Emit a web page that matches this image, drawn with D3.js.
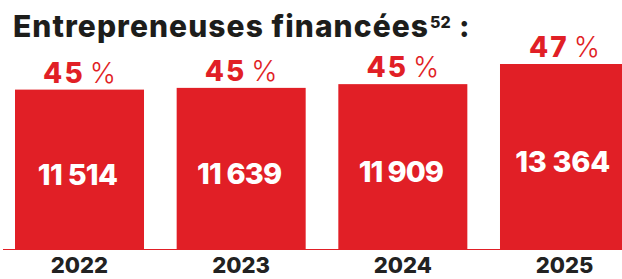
<!DOCTYPE html>
<html>
<head>
<meta charset="utf-8">
<script src="https://cdn.jsdelivr.net/npm/d3@7/dist/d3.min.js"></script>
<style>
  html, body { margin: 0; padding: 0; background: #ffffff; }
  svg { display: block; }
  text { font-family: Inter, Roboto, "Liberation Sans", sans-serif; }
</style>
</head>
<body>
<svg id="chart" width="622" height="279"></svg>
<script>
const years = ["2022", "2023", "2024", "2025"];
const counts = [11514, 11639, 11909, 13364];
const shares = [45, 45, 45, 47];
const titleText = "Entrepreneuses financées";
const titleNote = "52";

const W = 622, H = 279;
const red = "#e11f26";
const dark = "#1d1d1b";
const svg = d3.select("#chart");

const x = d3.scaleBand().domain(years).range([15, 629]).paddingInner(0.202).paddingOuter(0);
const y = d3.scaleLinear().domain([0, d3.max(counts)]).range([249, 64]);

function fitWidth(sel, target) {
  const node = sel.node();
  const w = node.getComputedTextLength();
  const n = Math.max(1, sel.text().length - 1);
  sel.style("letter-spacing", ((target - w) / n) + "px");
}

// Title
const title = svg.append("text")
  .attr("x", 13).attr("y", 37)
  .attr("fill", dark)
  .style("font-size", "30px").style("font-weight", 800)
  .text(titleText);
fitWidth(title, 415);
svg.append("text")
  .attr("x", 430).attr("y", 28)
  .attr("fill", dark)
  .style("font-size", "16px").style("font-weight", 800)
  .text(titleNote);
svg.append("text")
  .attr("x", 459).attr("y", 37)
  .attr("fill", dark)
  .style("font-size", "30px").style("font-weight", 800)
  .text(":");

// baseline
svg.append("line")
  .attr("x1", 3).attr("x2", W)
  .attr("y1", y(0) + 0.5).attr("y2", y(0) + 0.5)
  .attr("stroke", red).attr("stroke-width", 1.2);

const data = years.map((yr, i) => ({ yr, v: counts[i], p: shares[i] }));

// bars
svg.selectAll("rect.bar").data(data).enter().append("rect")
  .attr("class", "bar")
  .attr("x", d => x(d.yr))
  .attr("y", d => y(d.v))
  .attr("width", x.bandwidth())
  .attr("height", d => y(0) - y(d.v))
  .attr("fill", red);

// values inside bars
const fmt = v => d3.format(",")(v).replace(/,/g, " ");
const valTargets = { 11514: 80, 11639: 85, 11909: 85, 13364: 95 };
svg.selectAll("text.val").data(data).enter().append("text")
  .attr("class", "val")
  .attr("x", d => x(d.yr) + x.bandwidth() / 2 - 2)
  .attr("y", d => (y(d.v) + y(0)) / 2 + 15.5)
  .attr("text-anchor", "middle")
  .attr("fill", "#ffffff")
  .style("font-size", "29px").style("font-weight", 800)
  .text(d => fmt(d.v))
  .each(function(d) { fitWidth(d3.select(this), valTargets[d.v] || 85); });

// percent labels
const pl = svg.selectAll("text.pct").data(data).enter().append("text")
  .attr("class", "pct")
  .attr("x", d => x(d.yr) + x.bandwidth() / 2)
  .attr("y", d => y(d.v) - 7)
  .attr("text-anchor", "middle")
  .attr("fill", red)
  .style("font-size", "28px");
pl.append("tspan").style("font-weight", 800).style("letter-spacing", "2px").text(d => d.p);
pl.append("tspan").style("font-weight", 300).attr("dx", 5).text("%");

// year labels
svg.selectAll("text.yr").data(data).enter().append("text")
  .attr("class", "yr")
  .attr("x", d => x(d.yr) + x.bandwidth() / 2)
  .attr("y", 273)
  .attr("text-anchor", "middle")
  .attr("fill", "#222222")
  .style("font-size", "22px").style("font-weight", 800)
  .text(d => d.yr);
</script>
</body>
</html>
